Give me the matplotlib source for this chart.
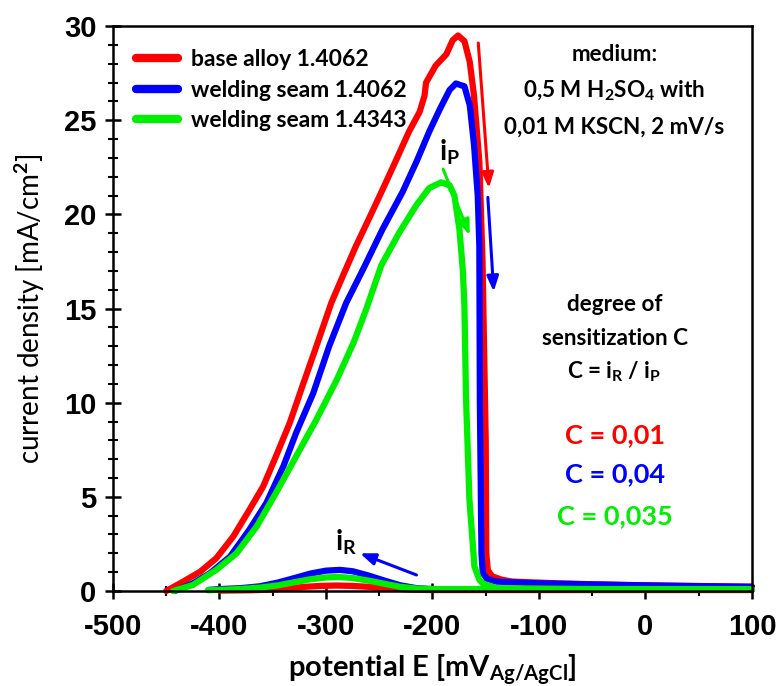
import numpy as np
import matplotlib
matplotlib.use("Agg")
import matplotlib.pyplot as plt
from matplotlib.ticker import MultipleLocator

# ── Fonts ────────────────────────────────────────────────────────────────────
plt.rcParams['font.family'] = ['Lato', 'DejaVu Sans']
plt.rcParams['font.weight'] = 'bold'
plt.rcParams['axes.unicode_minus'] = False
plt.rcParams['mathtext.fontset'] = 'custom'
plt.rcParams['mathtext.rm'] = 'Lato:bold'
plt.rcParams['mathtext.it'] = 'Lato:bold'
plt.rcParams['mathtext.bf'] = 'Lato:bold'
plt.rcParams['mathtext.default'] = 'rm'

RED, BLUE, GREEN = "#ff0000", "#0000ff", "#00ee00"

# ── Data ─────────────────────────────────────────────────────────────────────
# base alloy 1.4062 – anodic (forward) scan
red_fwd_E = [-450, -434, -418, -403, -387, -372, -359, -347, -334, -322, -309,
             -295, -284, -272, -259, -247, -234, -222, -212, -207.5, -206,
             -197, -187, -181, -176, -170, -165, -161, -156, -153, -150, -149.5,
             -148, -144, -135, -125, -80, -22, 40, 100]
red_fwd_I = [0.0, 0.5, 1.03, 1.74, 2.9, 4.3, 5.55, 7.15, 8.93, 10.9, 13.0,
             15.3, 16.75, 18.3, 19.85, 21.3, 22.9, 24.4, 25.45, 26.3, 27.0,
             27.9, 28.5, 29.25, 29.5, 29.2, 28.1, 26.3, 22.8, 17.5, 8.0, 2.0,
             1.1, 0.78, 0.6, 0.5, 0.4, 0.32, 0.27, 0.23]
# base alloy 1.4062 – reverse (cathodic) scan
red_rev_E = [100, 0, -100, -200, -220, -240, -260, -275, -290, -305, -320,
             -335, -350, -370, -400]
red_rev_I = [0.05, 0.05, 0.05, 0.05, 0.07, 0.14, 0.22, 0.27, 0.29, 0.27, 0.22,
             0.14, 0.08, 0.04, 0.02]

# welding seam 1.4062
blue_fwd_E = [-442, -425, -409, -390, -372, -356, -340, -328, -312, -297, -281,
              -265, -247, -228, -215, -203, -193, -184, -178, -170, -165, -161,
              -157.5, -156, -155.5, -154, -152.8, -149, -140, -109, -50, 20, 100]
blue_fwd_I = [0.0, 0.4, 0.94, 1.83, 3.25, 4.67, 6.62, 8.4, 10.5, 13.0, 15.3,
              17.1, 19.2, 21.2, 22.8, 24.4, 25.6, 26.6, 26.95, 26.8, 25.8, 23.7,
              21.0, 18.3, 10.0, 2.0, 0.95, 0.65, 0.5, 0.42, 0.35, 0.28, 0.22]
blue_rev_E = [100, 0, -100, -200, -215, -230, -245, -260, -275, -287, -300,
              -315, -330, -345, -362, -380, -400, -410]
blue_rev_I = [0.1, 0.1, 0.1, 0.1, 0.15, 0.3, 0.55, 0.82, 1.05, 1.12, 1.08,
              0.92, 0.68, 0.45, 0.25, 0.15, 0.1, 0.06]

# welding seam 1.4343
green_fwd_E = [-443.5, -425, -403, -384, -365, -347, -328, -309, -290, -274,
               -262, -248, -231, -215, -203, -192, -184, -179.4, -174.7, -171.6,
               -170, -168.5, -165.3, -160.6, -156, -152.8, -140, -50, 100]
green_fwd_I = [0.0, 0.32, 1.12, 2.0, 3.43, 5.2, 7.15, 9.1, 11.2, 13.2, 15.0,
               17.3, 19.05, 20.5, 21.4, 21.7, 21.55, 21.0, 19.2, 17.1, 15.15,
               10.2, 4.85, 1.3, 0.6, 0.4, 0.15, 0.1, 0.1]
green_rev_E = [100, 0, -100, -200, -215, -230, -245, -260, -275, -288, -300,
               -315, -330, -345, -362, -380, -395, -411]
green_rev_I = [0.1, 0.1, 0.1, 0.1, 0.13, 0.22, 0.38, 0.55, 0.69, 0.74, 0.72,
               0.62, 0.46, 0.3, 0.18, 0.11, 0.07, 0.04]

series = [
    ("base alloy 1.4062", RED, red_fwd_E, red_fwd_I, red_rev_E, red_rev_I),
    ("welding seam 1.4062", BLUE, blue_fwd_E, blue_fwd_I, blue_rev_E, blue_rev_I),
    ("welding seam 1.4343", GREEN, green_fwd_E, green_fwd_I, green_rev_E, green_rev_I),
]

# ── Figure ───────────────────────────────────────────────────────────────────
fig = plt.figure(figsize=(7.77, 6.86), dpi=100)
ax = fig.add_axes([0.1454, 0.1385, 0.8224, 0.8235])

for label, c, fE, fI, rE, rI in series:
    ax.plot(fE, fI, color=c, lw=4.5, solid_capstyle='round',
            solid_joinstyle='round', label=label, clip_on=False)
    ax.plot(rE, rI, color=c, lw=4.5, solid_capstyle='round',
            solid_joinstyle='round', clip_on=False)

ax.set_xlim(-500, 100)
ax.set_ylim(0, 30)

# ── Axes styling ─────────────────────────────────────────────────────────────
for s in ax.spines.values():
    s.set_linewidth(1.8)
ax.xaxis.set_major_locator(MultipleLocator(100))
ax.xaxis.set_minor_locator(MultipleLocator(50))
ax.yaxis.set_major_locator(MultipleLocator(5))
ax.yaxis.set_minor_locator(MultipleLocator(1))
ax.tick_params(which='major', direction='inout', length=12, width=1.8,
               top=False, right=False)
ax.tick_params(axis='x', which='major', pad=10)
ax.tick_params(axis='y', which='major', pad=6)
ax.tick_params(which='minor', direction='inout', length=7, width=1.5,
               top=False, right=False)
for t in ax.get_xticklabels() + ax.get_yticklabels():
    t.set_family('Liberation Sans')
    t.set_fontweight('bold')
    t.set_fontsize(21)

ax.set_ylabel(r"current density [mA/cm$^2$]", fontsize=20, fontweight='normal')
ax.yaxis.set_label_coords(-0.103, 0.5)
ax.set_xlabel(r"potential E [mV$_{\mathrm{Ag/AgCl}}$]", fontsize=21,
              fontweight='bold')
ax.xaxis.set_label_coords(0.5, -0.108)

# ── Legend ───────────────────────────────────────────────────────────────────
leg = ax.legend(loc='upper left', frameon=False, fontsize=16.5,
                handlelength=1.85, handletextpad=0.55, labelspacing=0.42,
                borderaxespad=0.6, bbox_to_anchor=(0.0, 1.0))
for h in leg.get_lines():
    h.set_linewidth(6)

# ── Arrows & peak labels ─────────────────────────────────────────────────────
def arrow(x0, y0, x1, y1, c):
    ax.annotate("", xy=(x1, y1), xytext=(x0, y0),
                arrowprops=dict(arrowstyle="-|>,head_length=0.9,head_width=0.35",
                                color=c, lw=2.2, shrinkA=0, shrinkB=0))

arrow(-157, 29.1, -147, 21.4, RED)
arrow(-148, 20.9, -142.5, 15.9, BLUE)
arrow(-190, 22.4, -165, 18.9, GREEN)
arrow(-215, 0.85, -268, 2.0, BLUE)

ax.text(-184, 23.3, r"i$_\mathrm{P}$", fontsize=20, ha='center', va='center')
ax.text(-281, 2.6, r"i$_\mathrm{R}$", fontsize=20, ha='center', va='center')

# ── Side notes ───────────────────────────────────────────────────────────────
xc = 0.785
notes = [
    ("medium:", 0.950),
    (r"0,5 M H$_2$SO$_4$ with", 0.886),
    ("0,01 M KSCN, 2 mV/s", 0.821),
    ("degree of", 0.508),
    ("sensitization C", 0.447),
    (r"C = i$_\mathrm{R}$ / i$_\mathrm{P}$", 0.388),
]
for txt, yy in notes:
    ax.text(xc, yy, txt, transform=ax.transAxes, fontsize=16.2, ha='center',
            va='center', color='black')

for txt, yy, c in [("C = 0,01", 0.276, RED), ("C = 0,04", 0.206, BLUE),
                   ("C = 0,035", 0.132, GREEN)]:
    ax.text(xc, yy, txt, transform=ax.transAxes, fontsize=19.5, ha='center',
            va='center', color=c)

fig.savefig("out.png", dpi=100)
